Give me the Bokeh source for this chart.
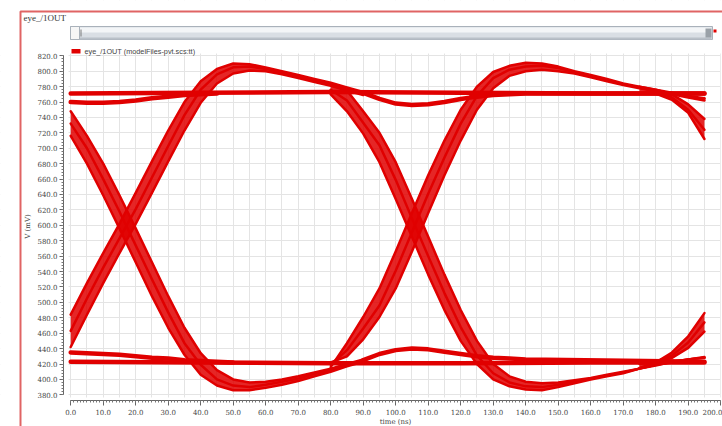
import math
from bokeh.plotting import figure
from bokeh.models import (Range1d, SingleIntervalTicker, NumeralTickFormatter,
                          BoxAnnotation, Label)
from bokeh.embed import file_html
from bokeh.resources import INLINE

# ---------------- data ----------------
# first eye: transitions through the crossing at ~17 ns (time in ns, voltage in mV)
t_eye1 = [0, 5, 10, 15, 20, 25, 30, 35, 40, 45, 50, 55, 60, 65, 70, 75, 80, 85, 90]
fall1_upper = [748, 716, 680, 639, 596, 552, 508, 467, 434, 412, 400, 396, 397, 400, 404, 409, 414, 420, 426]
fall1_mid = [732, 700, 660, 618, 574, 530, 487, 447, 419, 400, 392, 390, 393, 397, 401, 407, 412, 419, 425]
fall1_lower = [716, 680, 639, 596, 552, 508, 467, 432, 406, 392, 386, 386, 389, 393, 398, 404, 410, 417, 423]
rise1_upper = [484, 525, 564, 602, 642, 683, 723, 760, 787, 803, 810, 809, 805, 800, 795, 790, 785, 779, 773]
rise1_mid = [463, 505, 545, 583, 621, 662, 703, 743, 776, 796, 805, 806, 803, 798, 793, 788, 783, 777, 772]
rise1_lower = [442, 484, 525, 564, 602, 642, 683, 723, 759, 784, 797, 801, 800, 796, 791, 786, 781, 775, 769]

# second eye: transitions through the crossing at ~105 ns
t_eye2 = [80, 85, 90, 95, 100, 105, 110, 115, 120, 125, 130, 135, 140, 145, 150, 155, 160,
          165, 170, 175, 180, 185, 190, 195]
fall2_upper = [783, 775, 748, 720, 682, 634, 585, 536, 490, 450, 420, 404, 397, 395, 396, 399,
               402, 406, 410, 414, 418, 423, 426, 429]
fall2_mid = [776, 762, 733, 704, 659, 609, 560, 512, 468, 431, 408, 396, 391, 390, 393, 397,
             401, 405, 409, 414, 419, 423, 426, 428]
fall2_lower = [770, 748, 719, 682, 634, 585, 536, 490, 450, 420, 400, 391, 387, 386, 390, 395,
               400, 404, 408, 414, 419, 422, 426, 428]
rise2_upper = [416, 447, 481, 518, 566, 616, 665, 710, 750, 780, 799, 807, 811, 810, 806, 800,
               795, 790, 784, 780, 776, 772, 768, 765]
rise2_mid = [419, 438, 466, 496, 541, 591, 641, 688, 732, 768, 791, 802, 806, 807, 804, 799,
             794, 788, 783, 779, 775, 771, 767, 764]
rise2_lower = [422, 430, 452, 481, 518, 566, 616, 665, 710, 750, 778, 794, 800, 802, 800, 797,
               792, 787, 782, 778, 774, 770, 766, 762]

# right edge: transitions starting towards the next crossing
t_end = [175, 180, 185, 190, 195]
fall3_upper = [780, 776, 770, 757, 738]
fall3_mid = [779, 774, 766, 750, 724]
fall3_lower = [772, 771, 763, 746, 712]
rise3_upper = [415, 422, 435, 456, 486]
rise3_mid = [420, 423, 431, 448, 474]
rise3_lower = [422, 422, 428, 441, 462]

# steady levels
t_level = [0, 40, 80, 120, 160, 195]
high_level = [771, 772, 773, 772, 771, 771]
low_level = [423, 422, 421, 421, 422, 422]

t_settle_hi = [0, 5, 10, 15, 20, 25, 30, 35, 40, 45]
high_settle = [760, 759, 759, 760, 762, 765, 767, 769, 770, 771]
t_settle_lo = [0, 5, 10, 15, 20, 25, 30, 35, 40, 45, 50]
low_settle = [435, 434, 433, 432, 430, 428, 427, 425, 424, 423, 422]

t_ring = [90, 95, 100, 105, 110, 115, 120, 125, 130, 135, 140, 195]
high_ring = [772, 764, 758, 756, 757, 760, 764, 767, 769, 770, 771, 771]
low_ring = [425, 433, 438, 440, 439, 436, 433, 430, 428, 427, 426, 423]

x_axis_bounds = (0, 200)
y_axis_bounds = (380, 820)
x_tick_step = 10
y_tick_step = 20
legend_text = "eye_/1OUT (modelFiles-pvt.scs:tt)"
window_title = "eye_/1OUT"
x_label = "time (ns)"
y_label = "V (mV)"

# ---------------- geometry (pixels of the 722x426 canvas) ----------------
W, H = 722, 426
PX_T0, PX_PER_NS = 70.2, 3.25      # x pixel of t=0, pixels per ns
PY_820, PX_PER_MV = 55.3, 0.7705   # y pixel of 820 mV, pixels per mV


def tx(px):
    return (px - PX_T0) / PX_PER_NS


def vy(py):
    return 820 - (py - PY_820) / PX_PER_MV


RED = "#e00000"
p = figure(width=W, height=H, output_backend="svg", toolbar_location=None,
           x_range=Range1d(tx(0), tx(W)), y_range=Range1d(vy(H), vy(0)),
           min_border=0, min_border_left=0, min_border_right=0,
           min_border_top=0, min_border_bottom=0)
p.title.visible = False
p.outline_line_color = None
p.background_fill_color = "white"
p.border_fill_color = "white"

# grid, limited to the plotting area
p.xgrid.ticker = SingleIntervalTicker(interval=5)
p.ygrid.ticker = SingleIntervalTicker(interval=20)
p.xgrid.bounds = x_axis_bounds
p.ygrid.bounds = y_axis_bounds
p.grid.grid_line_color = "#e4e4e4"
p.grid.grid_line_width = 1


def mask(**kw):
    p.add_layout(BoxAnnotation(fill_color="white", fill_alpha=1, line_alpha=0,
                               level="underlay", **kw))


mask(bottom=vy(53))
mask(top=vy(397))
mask(right=tx(68))
mask(left=x_axis_bounds[1])

# axes drawn at fixed positions inside the canvas
for ax in (p.xaxis, p.yaxis):
    ax.formatter = NumeralTickFormatter(format="0.0")
    ax.axis_line_color = "#666666"
    ax.major_tick_line_color = "#666666"
    ax.minor_tick_line_color = "#777777"
    ax.major_tick_in = 0
    ax.minor_tick_in = 0
    ax.major_label_text_font = "DejaVu Serif"
    ax.major_label_text_font_size = "7px"
    ax.major_label_text_color = "#444444"
p.xaxis.ticker = SingleIntervalTicker(interval=x_tick_step, num_minor_ticks=10)
p.yaxis.ticker = SingleIntervalTicker(interval=y_tick_step, num_minor_ticks=5)
p.xaxis.bounds = x_axis_bounds
p.yaxis.bounds = y_axis_bounds
p.xaxis.fixed_location = vy(399.5)
p.yaxis.fixed_location = tx(63)
p.xaxis.major_tick_out = 5
p.xaxis.minor_tick_out = 2
p.xaxis.major_label_standoff = 4
p.yaxis.major_tick_out = 4
p.yaxis.minor_tick_out = 2
p.yaxis.major_label_standoff = 2


# traces: each band is three traces with the space between them filled
def band(ts, upper, mid, lower, w):
    p.varea(x=ts, y1=lower, y2=upper, fill_color=RED, fill_alpha=0.85)
    for ys in (upper, mid, lower):
        p.line(ts, ys, line_color=RED, line_width=w, line_join="round", line_cap="round")


def trace(ts, ys, w=4.5):
    p.line(ts, ys, line_color=RED, line_width=w, line_join="round", line_cap="round")


trace(t_level, high_level)
trace(t_level, low_level)
trace(t_settle_hi, high_settle)
trace(t_settle_lo, low_settle)
trace(t_ring, high_ring)
trace(t_ring, low_ring)
band(t_eye1, fall1_upper, fall1_mid, fall1_lower, 2.5)
band(t_eye1, rise1_upper, rise1_mid, rise1_lower, 2.5)
band(t_eye2, fall2_upper, fall2_mid, fall2_lower, 2.5)
band(t_eye2, rise2_upper, rise2_mid, rise2_lower, 2.5)
band(t_end, fall3_upper, fall3_mid, fall3_lower, 2.5)
band(t_end, rise3_upper, rise3_mid, rise3_lower, 2.5)


# ---------------- window decorations ----------------
def box(x0, x1, y0, y1, fill=None, line=None, lw=1):
    p.add_layout(BoxAnnotation(left=tx(x0), right=tx(x1), top=vy(y0), bottom=vy(y1),
                               fill_color=fill if fill else "white",
                               fill_alpha=1 if fill else 0,
                               line_color=line if line else "white",
                               line_alpha=1 if line else 0,
                               line_width=lw, level="overlay"))


def text(x, y, s, size, font="DejaVu Serif", color="#333333", align="left", angle=0.0):
    p.add_layout(Label(x=tx(x), y=vy(y), text=s, text_font=font, text_font_size=size,
                       text_color=color, text_align=align, text_baseline="middle",
                       angle=angle))


# red window frame (continues past the right and bottom edges)
box(20, 800, 11, 520, line="#e06464", lw=2)
# scrollbar
box(70, 712, 26, 39, fill="#d9dee4", line="#a9b1ba")
box(71, 711, 27, 32, fill="#f3f5f7")
box(71, 711, 37, 39, fill="#b9c0c8")
box(70, 79, 26, 39, fill="#f6f6f6", line="#a9b1ba")
box(80, 81, 29, 36, fill="#7a7a7a")
box(705, 711, 28, 37, fill="#9aa1a8")
box(713, 716, 29, 32, fill=RED)
text(74.5, 32, "×", "8px", color=RED, align="center")
# title and legend
text(23, 17.5, window_title, "9px", font="Liberation Serif")
box(71, 80, 48.5, 53, fill=RED)
text(84, 51, legend_text, "7.3px", font="Liberation Sans", color="#444444")
# axis titles
text(27, 226, y_label, "7px", color="#444444", align="center", angle=math.pi / 2)
text(395, 421.5, x_label, "7px", color="#444444", align="center")

open("out.html", "w").write(file_html(p, INLINE))
